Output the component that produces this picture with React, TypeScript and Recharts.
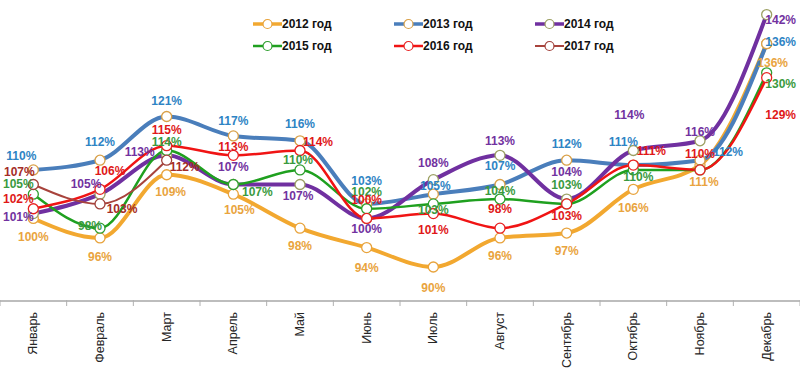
import React from "react";
import { LineChart, Line, XAxis, YAxis, Legend } from "recharts";

const months = ["Январь", "Февраль", "Март", "Апрель", "Май", "Июнь", "Июль", "Август", "Сентябрь", "Октябрь", "Ноябрь", "Декабрь"];

const y2012 = [100, 96, 109, 105, 98, 94, 90, 96, 97, 106, 111, 136];
const y2013 = [110, 112, 121, 117, 116, 103, 105, 107, 112, 111, 112, 136];
const y2014 = [101, 105, 113, 107, 107, 100, 108, 113, 104, 114, 116, 142];
const y2015 = [105, 98, 114, 107, 110, 102, 103, 104, 103, 110, 110, 130];
const y2016 = [102, 106, 115, 113, 114, 100, 101, 98, 103, 111, 110, 129];
const y2017 = [107, 103, 112, null, null, null, null, null, null, null, null, null];

// label placement (dx, dy from the point), Excel had these hand-placed
type Off = [number, number] | null;
const off2012: Off[] = [[0, 19], [0, 19], [4, 17], [6, 16], [0, 18], [0, 20], [0, 21], [0, 18], [0, 18], [0, 19], [4, 17], [6, 19]];
const off2013: Off[] = [[-12, -14], [0, -18], [0, -16], [0, -15], [0, -17], [0, -23], [2, -8], [0, -18], [0, -16], [-10, -23], [28, -8], [14, -2]];
const off2014: Off[] = [[-15, 3], [-14, -10], [-27, -3], [0, -17], [-2, 12], [0, 11], [0, -17], [0, -14], [0, -27], [-4, -36], [0, -9], [14, 5]];
const off2015: Off[] = [[-15, -10], [-10, -2], [0, -9], [24, 8], [-2, -10], [0, -17], [0, 6], [0, -8], [0, -19], [5, 7], null, [14, 11]];
const off2016: Off[] = [[-15, -10], [10, -18], [0, -16], [0, -8], [18, -9], [0, -18], [0, 16], [0, -19], [0, 12], [18, -14], [0, -16], [14, 37]];
const off2017: Off[] = [[-14, -12], [22, 5], [18, 7]];

const series = [
  { key: "y2012", name: "2012 год", color: "#F2A830", width: 4, dot: "#E8A33C", label: "#E9A43E", offsets: off2012 },
  { key: "y2013", name: "2013 год", color: "#4A7EBB", width: 4, dot: "#D9A048", label: "#2E84C4", offsets: off2013 },
  { key: "y2014", name: "2014 год", color: "#7030A0", width: 4, dot: "#9CA063", label: "#7232A0", offsets: off2014 },
  { key: "y2015", name: "2015 год", color: "#1FA01F", width: 2.5, dot: "#2E9E2E", label: "#3A9A40", offsets: off2015 },
  { key: "y2016", name: "2016 год", color: "#F01414", width: 2.5, dot: "#E82020", label: "#E01818", offsets: off2016 },
  { key: "y2017", name: "2017 год", color: "#A8433C", width: 2, dot: "#A0403A", label: "#A42C28", offsets: off2017 },
];

const data = months.map((m, i) => ({
  month: m,
  y2012: y2012[i],
  y2013: y2013[i],
  y2014: y2014[i],
  y2015: y2015[i],
  y2016: y2016[i],
  y2017: y2017[i],
}));

const FONT = "'Liberation Sans', Arial, sans-serif";

function makeLabel(color: string, offsets: Off[]) {
  return (props: any) => {
    const { x, y, value, index } = props;
    const o = offsets[index];
    if (value == null || !o) return null;
    return (
      <text
        key={index}
        x={x + o[0]}
        y={y + o[1]}
        textAnchor="middle"
        dominantBaseline="central"
        fill={color}
        fontFamily={FONT}
        fontWeight="bold"
        fontSize={12}
      >
        {value}%
      </text>
    );
  };
}

function MonthTick(props: any) {
  const { x, y, payload, index, visibleTicksCount } = props;
  const off = payload.offset ?? 0;
  const top = y;
  return (
    <g>
      <line x1={x - off} x2={x - off} y1={top - 1} y2={top + 5} stroke="#b0b0b0" strokeWidth={1} />
      {index === visibleTicksCount - 1 && (
        <line x1={x + off} x2={x + off} y1={top - 1} y2={top + 5} stroke="#b0b0b0" strokeWidth={1} />
      )}
      <text
        x={x}
        y={top + 11}
        transform={`rotate(-90, ${x}, ${top + 11})`}
        textAnchor="end"
        dominantBaseline="central"
        fill="#262626"
        fontFamily={FONT}
        fontSize={12.5}
      >
        {payload.value}
      </text>
    </g>
  );
}

function LegendBox() {
  return (
    <div style={{ display: "grid", gridTemplateColumns: "141px 141px 141px", rowGap: 6, fontFamily: FONT }}>
      {series.map((s) => (
        <div key={s.key} style={{ display: "flex", alignItems: "center", height: 16 }}>
          <svg width={29} height={12}>
            <line x1={0} x2={29} y1={6} y2={6} stroke={s.color} strokeWidth={Math.min(s.width, 3.5)} />
            <circle cx={14.5} cy={6} r={4.5} fill="#fff" stroke={s.dot} strokeWidth={1.2} />
          </svg>
          <span style={{ fontSize: 12, fontWeight: "bold", color: "#111" }}>{s.name}</span>
        </div>
      ))}
    </div>
  );
}

export default function App() {
  return (
    <div style={{ position: "absolute", left: 0, top: 0, width: 800, height: 374, background: "#fff" }}>
      <LineChart width={800} height={374} data={data} margin={{ top: 0, right: 0, bottom: 0, left: 0 }}>
        <XAxis
          dataKey="month"
          scale="band"
          height={73}
          interval={0}
          axisLine={{ stroke: "#bdbdbd", strokeWidth: 2 }}
          tickLine={false}
          tickSize={0}
          tickMargin={0}
          tick={<MonthTick />}
        />
        <YAxis hide domain={[83, 145]} />
        <Legend
          layout="horizontal"
          verticalAlign="middle"
          align="center"
          content={<LegendBox />}
          wrapperStyle={{ position: "absolute", top: 16, left: 253, width: 430 }}
        />
        {series.map((s) => (
          <Line
            key={s.key}
            dataKey={s.key}
            name={s.name}
            type="monotone"
            stroke={s.color}
            strokeWidth={s.width}
            dot={{ r: 5, fill: "#fff", stroke: s.dot, strokeWidth: 1.3 }}
            activeDot={false}
            label={makeLabel(s.label, s.offsets)}
            isAnimationActive={false}
          />
        ))}
      </LineChart>
    </div>
  );
}
